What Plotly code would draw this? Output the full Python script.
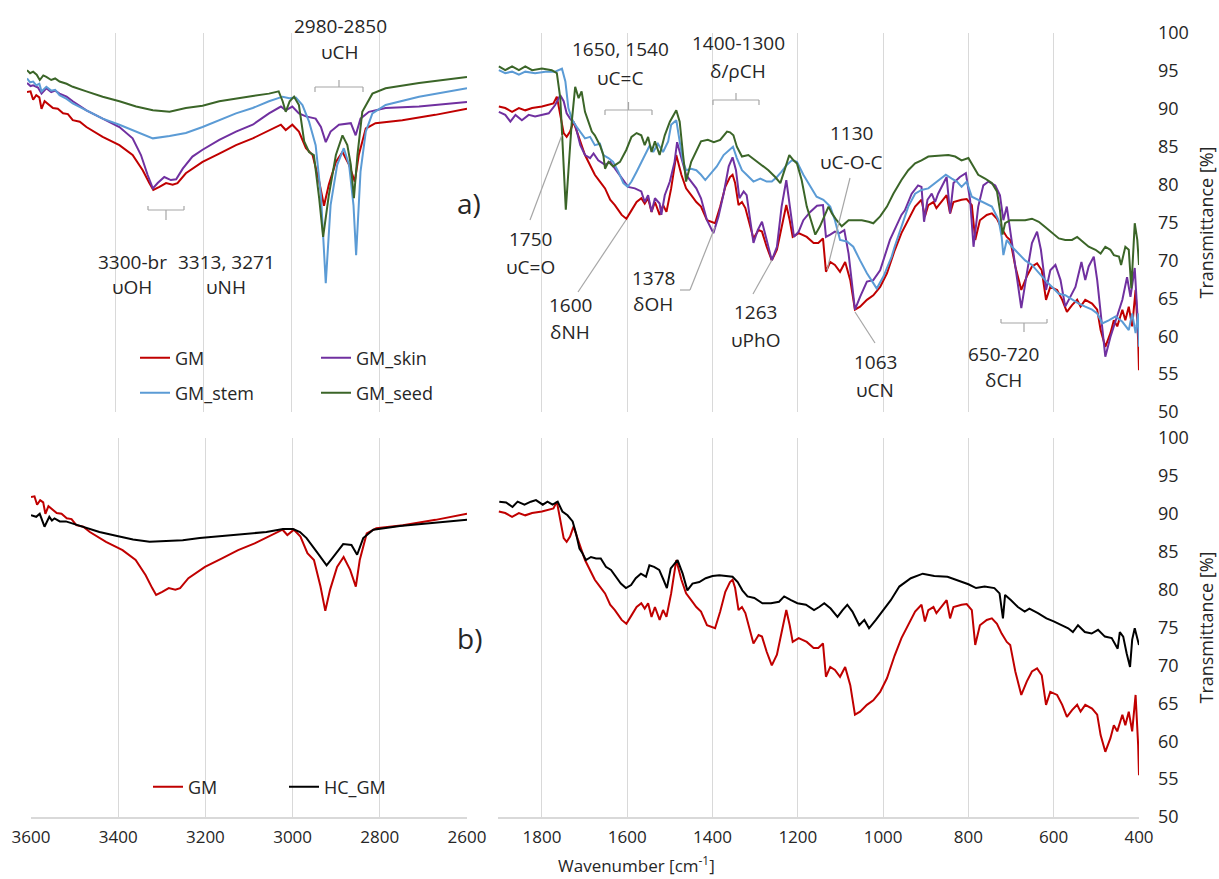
import plotly.graph_objects as go

W, H = 1219, 879

# ---------------- data (wavenumber [cm-1], transmittance [%]) ----------------
gm_high = [(3600, 92.2), (3592, 92.3), (3586, 91.2), (3579, 91.8), (3572, 91.5), (3567, 90.0),
           (3560, 91.0), (3552, 90.6), (3541, 90.1), (3530, 90.0), (3518, 89.4), (3507, 89.3),
           (3496, 88.5), (3480, 88.3), (3465, 87.6), (3428, 86.3), (3390, 85.2), (3360, 83.9),
           (3337, 81.9), (3322, 80.2), (3313, 79.3), (3299, 79.7), (3284, 80.2), (3269, 80.0),
           (3258, 80.2), (3239, 81.5), (3201, 83.0), (3163, 84.1), (3125, 85.2), (3087, 86.1),
           (3050, 87.2), (3023, 87.9), (3012, 87.2), (2997, 87.9), (2982, 87.0), (2966, 84.8),
           (2951, 83.9), (2936, 80.4), (2925, 77.2), (2914, 80.0), (2898, 83.0), (2883, 84.3),
           (2868, 82.6), (2855, 80.4), (2846, 83.9), (2830, 87.4), (2808, 88.1), (2747, 88.5),
           (2672, 89.2), (2600, 90.0)]

skin_high = [(3600, 93.4), (3592, 93.0), (3586, 93.1), (3575, 92.8), (3567, 92.0), (3556, 92.7),
             (3545, 92.2), (3536, 92.4), (3526, 92.0), (3510, 91.6), (3496, 91.0), (3465, 89.8),
             (3428, 88.7), (3390, 87.6), (3360, 86.1), (3341, 83.9), (3326, 81.3), (3314, 79.5),
             (3303, 80.2), (3288, 81.0), (3273, 80.6), (3261, 80.7), (3246, 82.1), (3224, 83.7),
             (3201, 84.6), (3163, 85.9), (3125, 87.0), (3087, 87.9), (3050, 89.4), (3023, 90.3),
             (3012, 89.8), (2997, 90.3), (2982, 89.4), (2966, 89.0), (2944, 88.7), (2932, 87.6),
             (2921, 85.6), (2910, 87.0), (2891, 87.9), (2864, 88.1), (2853, 86.5), (2842, 88.7),
             (2823, 89.6), (2785, 90.1), (2709, 90.3), (2600, 90.9)]

stem_high = [(3600, 94.0), (3593, 93.5), (3586, 93.6), (3579, 93.1), (3572, 93.3), (3567, 92.3),
             (3556, 92.9), (3545, 92.4), (3536, 92.5), (3526, 91.8), (3510, 91.3), (3496, 90.7),
             (3465, 89.8), (3428, 88.7), (3390, 87.9), (3352, 87.0), (3314, 86.1), (3276, 86.4),
             (3239, 86.8), (3201, 87.6), (3163, 88.5), (3125, 89.4), (3087, 90.1), (3050, 91.0),
             (3019, 91.6), (3004, 91.4), (2989, 91.5), (2974, 90.5), (2959, 88.3), (2944, 85.2),
             (2932, 78.6), (2921, 67.0), (2910, 77.3), (2895, 82.6), (2880, 84.8), (2868, 82.6),
             (2858, 77.3), (2852, 70.7), (2842, 81.7), (2830, 87.0), (2815, 89.4), (2785, 90.5),
             (2709, 91.6), (2600, 92.7)]

seed_high = [(3600, 95.1), (3593, 94.7), (3586, 94.9), (3578, 94.5), (3571, 93.8), (3563, 94.4),
             (3556, 94.2), (3545, 93.8), (3536, 94.0), (3526, 93.6), (3510, 93.3), (3496, 92.9),
             (3465, 92.3), (3428, 91.6), (3390, 91.0), (3352, 90.3), (3314, 89.8), (3276, 89.6),
             (3239, 90.1), (3201, 90.4), (3163, 91.0), (3125, 91.4), (3087, 91.7), (3050, 92.0),
             (3028, 92.3), (3019, 91.0), (3012, 89.6), (3003, 91.0), (2993, 91.6), (2982, 90.5),
             (2970, 85.7), (2959, 84.3), (2948, 83.9), (2936, 78.2), (2927, 73.1), (2914, 78.6),
             (2898, 83.9), (2883, 86.5), (2872, 85.2), (2864, 82.6), (2857, 78.2), (2849, 83.9),
             (2838, 89.6), (2815, 92.0), (2785, 92.7), (2709, 93.4), (2600, 94.2)]

hc_high = [(3600, 89.8), (3588, 89.6), (3580, 90.0), (3569, 88.3), (3558, 89.6), (3552, 89.1),
           (3546, 89.4), (3534, 89.0), (3520, 89.0), (3481, 88.3), (3443, 87.6), (3405, 87.1),
           (3366, 86.6), (3328, 86.3), (3290, 86.4), (3252, 86.5), (3213, 86.8), (3137, 87.2),
           (3060, 87.6), (3022, 88.0), (2999, 88.0), (2983, 87.6), (2968, 86.8), (2945, 85.0),
           (2922, 83.2), (2907, 84.3), (2884, 86.0), (2865, 85.9), (2852, 84.6), (2838, 86.8),
           (2815, 87.9), (2754, 88.4), (2677, 88.8), (2600, 89.2)]

gm_low = [(1901, 90.3), (1886, 90.1), (1870, 89.6), (1854, 90.1), (1839, 89.8), (1823, 90.1),
          (1800, 90.3), (1784, 90.5), (1773, 90.7), (1765, 91.6), (1757, 89.2), (1749, 86.8),
          (1742, 86.3), (1734, 87.0), (1726, 88.3), (1718, 87.0), (1710, 85.4), (1699, 83.9),
          (1683, 82.1), (1676, 81.3), (1664, 80.4), (1652, 79.5), (1640, 78.0), (1629, 77.3),
          (1613, 76.0), (1602, 75.5), (1590, 76.6), (1578, 77.7), (1567, 78.2), (1559, 77.5),
          (1551, 78.2), (1543, 76.4), (1535, 77.7), (1524, 76.0), (1516, 77.3), (1508, 76.4),
          (1497, 79.5), (1485, 83.9), (1473, 81.3), (1462, 79.5), (1450, 78.6), (1438, 77.7),
          (1427, 77.1), (1413, 75.3), (1394, 74.9), (1382, 77.1), (1370, 79.7), (1359, 81.0),
          (1353, 81.3), (1347, 80.2), (1339, 77.3), (1331, 77.7), (1323, 76.9), (1312, 74.5),
          (1304, 72.9), (1292, 74.0), (1284, 73.8), (1273, 71.8), (1261, 70.0), (1249, 71.4),
          (1238, 74.5), (1227, 77.3), (1219, 75.3), (1212, 73.1), (1198, 73.6), (1179, 73.1),
          (1163, 72.3), (1152, 72.3), (1141, 72.9), (1134, 68.5), (1124, 69.8), (1113, 69.4),
          (1101, 68.5), (1089, 69.8), (1077, 67.4), (1066, 63.5), (1054, 63.9), (1038, 64.8),
          (1023, 65.4), (1007, 66.5), (991, 68.3), (973, 71.3), (957, 73.6), (941, 75.3),
          (925, 77.1), (910, 78.0), (902, 75.8), (894, 77.3), (882, 77.7), (875, 76.9),
          (863, 77.7), (851, 78.6), (843, 76.2), (835, 77.7), (816, 78.0), (804, 78.1),
          (792, 77.3), (784, 72.7), (773, 75.3), (757, 76.0), (745, 76.2), (733, 75.5),
          (722, 74.2), (710, 73.1), (702, 72.7), (690, 69.2), (676, 66.1), (663, 67.9),
          (651, 69.2), (639, 69.6), (628, 68.7), (618, 64.8), (608, 66.5), (592, 66.1),
          (580, 64.8), (569, 63.2), (557, 64.1), (545, 64.8), (537, 63.9), (526, 64.8),
          (510, 64.3), (498, 63.5), (490, 60.8), (479, 58.6), (467, 60.4), (459, 62.1),
          (451, 61.3), (439, 63.5), (432, 62.1), (424, 63.9), (416, 61.3), (408, 66.1),
          (402, 59.5), (400, 55.5)]

skin_low = [(1901, 89.6), (1886, 89.2), (1874, 88.3), (1862, 89.2), (1847, 88.5), (1831, 89.2),
            (1816, 89.0), (1800, 89.2), (1784, 89.4), (1769, 90.5), (1757, 91.8), (1749, 91.0),
            (1742, 89.4), (1734, 88.7), (1722, 87.9), (1710, 85.2), (1699, 83.9), (1687, 83.5),
            (1679, 84.1), (1668, 83.2), (1652, 82.6), (1640, 83.0), (1629, 82.1), (1613, 80.8),
            (1598, 79.7), (1582, 79.5), (1567, 79.1), (1559, 77.7), (1551, 78.6), (1543, 76.4),
            (1535, 78.2), (1524, 77.5), (1520, 76.0), (1512, 78.6), (1500, 80.4), (1489, 83.0),
            (1483, 85.6), (1473, 83.5), (1462, 81.3), (1450, 80.4), (1438, 79.5), (1427, 78.2),
            (1413, 75.3), (1398, 73.6), (1386, 75.8), (1374, 78.8), (1362, 82.4), (1353, 83.6),
            (1345, 81.9), (1337, 78.2), (1327, 79.1), (1320, 78.6), (1312, 75.3), (1304, 72.3),
            (1294, 74.0), (1284, 75.1), (1273, 72.7), (1261, 70.0), (1249, 71.8), (1238, 77.1),
            (1227, 80.6), (1218, 76.6), (1209, 73.1), (1198, 73.8), (1187, 75.3), (1171, 76.4),
            (1155, 77.2), (1141, 77.3), (1134, 73.1), (1124, 73.4), (1113, 73.8), (1102, 73.6),
            (1091, 74.0), (1081, 70.9), (1066, 63.5), (1054, 65.2), (1038, 67.2), (1023, 67.4),
            (1007, 68.7), (984, 72.7), (973, 74.0), (957, 76.0), (949, 76.6), (933, 78.8),
            (918, 79.9), (910, 79.7), (904, 75.1), (896, 78.0), (886, 78.8), (878, 77.7),
            (871, 78.8), (859, 80.2), (851, 81.0), (843, 76.2), (835, 80.2), (820, 81.0),
            (806, 81.5), (796, 78.0), (788, 71.8), (777, 77.1), (765, 79.9), (753, 80.4),
            (737, 79.9), (726, 78.6), (718, 75.3), (710, 77.1), (702, 74.0), (690, 69.2),
            (676, 63.7), (663, 68.3), (651, 72.3), (639, 73.8), (630, 71.4), (618, 66.1),
            (608, 68.7), (596, 69.4), (584, 67.4), (573, 63.9), (561, 65.2), (549, 66.5),
            (535, 69.8), (526, 67.4), (518, 69.2), (506, 70.5), (498, 67.4), (488, 61.7),
            (479, 57.3), (467, 59.9), (455, 62.1), (439, 64.8), (428, 67.8), (420, 65.2),
            (410, 69.0), (404, 63.5), (400, 59.3)]

stem_low = [(1901, 95.1), (1886, 94.7), (1870, 94.9), (1854, 94.5), (1839, 94.9), (1816, 94.7),
            (1792, 94.9), (1769, 94.9), (1753, 95.3), (1745, 93.6), (1738, 90.1), (1730, 88.7),
            (1722, 87.9), (1710, 87.0), (1699, 86.1), (1687, 86.3), (1676, 85.2), (1664, 85.4),
            (1656, 83.9), (1644, 83.5), (1633, 83.0), (1621, 81.7), (1609, 80.2), (1599, 79.7),
            (1590, 80.4), (1578, 81.7), (1567, 83.0), (1555, 84.3), (1547, 85.2), (1539, 84.3),
            (1528, 85.4), (1516, 84.3), (1504, 85.7), (1497, 87.9), (1485, 88.5), (1477, 85.7),
            (1469, 83.0), (1462, 81.9), (1450, 82.1), (1438, 81.9), (1427, 81.3), (1417, 80.6),
            (1406, 81.3), (1390, 82.4), (1374, 83.9), (1359, 84.6), (1352, 85.0), (1343, 83.5),
            (1331, 81.9), (1320, 81.3), (1304, 80.4), (1288, 80.8), (1273, 80.4), (1261, 80.4),
            (1249, 81.0), (1238, 81.7), (1226, 82.6), (1214, 83.2), (1202, 83.0), (1187, 81.3),
            (1171, 79.7), (1156, 78.4), (1140, 78.0), (1124, 77.1), (1113, 75.3), (1101, 72.7),
            (1085, 72.5), (1070, 71.8), (1054, 70.0), (1038, 68.3), (1023, 67.0), (1015, 66.3),
            (999, 67.9), (980, 70.5), (973, 71.8), (957, 74.4), (941, 77.1), (925, 78.8),
            (910, 79.3), (894, 79.5), (878, 80.2), (863, 80.8), (853, 81.3), (839, 80.8),
            (827, 80.4), (816, 79.7), (804, 80.4), (792, 78.4), (777, 78.0), (761, 77.5),
            (745, 77.1), (729, 75.3), (722, 73.1), (718, 70.7), (710, 72.7), (698, 71.8),
            (682, 70.9), (667, 70.0), (651, 69.4), (635, 68.3), (620, 67.4), (604, 66.5),
            (588, 65.6), (573, 65.4), (557, 64.8), (541, 64.3), (526, 63.9), (510, 63.5),
            (498, 63.0), (486, 61.7), (471, 62.1), (455, 62.6), (439, 61.9), (424, 60.8),
            (416, 63.0), (408, 60.4), (402, 63.0), (400, 58.6)]

seed_low = [(1901, 95.6), (1886, 95.1), (1870, 95.6), (1854, 95.1), (1839, 95.6), (1823, 95.1),
            (1800, 95.3), (1777, 95.1), (1765, 94.7), (1757, 91.4), (1753, 87.0), (1749, 81.7),
            (1744, 76.7), (1738, 81.7), (1730, 88.3), (1722, 92.9), (1714, 91.4), (1707, 92.3),
            (1699, 89.6), (1691, 88.3), (1683, 87.0), (1676, 86.5), (1664, 85.2), (1656, 83.9),
            (1652, 82.1), (1644, 83.0), (1633, 82.4), (1617, 83.0), (1602, 84.6), (1590, 86.3),
            (1578, 86.8), (1567, 86.5), (1559, 85.2), (1551, 86.3), (1543, 84.3), (1535, 85.7),
            (1524, 83.9), (1512, 86.5), (1500, 88.3), (1485, 89.8), (1477, 88.3), (1469, 83.9),
            (1462, 80.4), (1450, 83.0), (1438, 84.3), (1427, 85.7), (1411, 85.9), (1397, 85.6),
            (1382, 85.9), (1366, 87.0), (1359, 86.9), (1351, 86.5), (1343, 85.0), (1331, 83.7),
            (1316, 83.9), (1300, 83.2), (1284, 82.6), (1269, 81.9), (1253, 81.0), (1241, 80.2),
            (1230, 82.1), (1220, 83.9), (1210, 83.2), (1202, 82.8), (1191, 80.6), (1179, 77.1),
            (1167, 74.9), (1159, 73.4), (1148, 74.5), (1136, 76.2), (1128, 77.1), (1120, 76.2),
            (1109, 75.3), (1097, 74.5), (1081, 75.3), (1066, 75.3), (1050, 75.3), (1034, 75.1),
            (1023, 74.9), (1007, 75.8), (991, 77.1), (976, 78.8), (957, 80.6), (941, 81.9),
            (925, 82.8), (910, 83.2), (894, 83.7), (871, 83.8), (847, 83.9), (831, 83.7),
            (816, 83.2), (800, 83.5), (788, 82.4), (777, 81.3), (761, 80.8), (745, 80.2),
            (733, 79.1), (726, 76.6), (720, 73.4), (714, 74.9), (702, 75.3), (682, 75.3),
            (667, 75.3), (651, 75.5), (635, 75.1), (620, 74.4), (604, 73.6), (588, 72.9),
            (573, 72.7), (557, 72.7), (545, 73.1), (533, 72.5), (518, 71.8), (502, 71.4),
            (490, 70.9), (479, 71.8), (467, 71.4), (459, 70.7), (447, 70.5), (442, 69.4),
            (432, 71.8), (424, 71.4), (418, 66.3), (410, 74.9), (404, 72.7), (400, 69.4)]

hc_low = [(1900, 91.6), (1884, 91.5), (1869, 90.9), (1857, 91.6), (1841, 91.2), (1826, 91.6),
          (1814, 91.8), (1798, 91.2), (1787, 91.6), (1775, 91.2), (1763, 91.6), (1752, 90.3),
          (1740, 89.8), (1728, 89.0), (1720, 87.4), (1712, 85.4), (1705, 84.8), (1697, 83.9),
          (1685, 84.3), (1673, 84.1), (1662, 84.1), (1650, 83.0), (1638, 82.6), (1627, 81.7),
          (1615, 80.8), (1603, 80.2), (1591, 80.6), (1580, 81.5), (1568, 82.1), (1556, 81.7),
          (1548, 83.2), (1537, 83.0), (1525, 82.6), (1515, 81.3), (1507, 80.2), (1498, 82.8),
          (1482, 83.9), (1470, 82.1), (1459, 79.9), (1447, 80.8), (1431, 81.0), (1416, 81.5),
          (1400, 81.8), (1384, 81.9), (1369, 81.8), (1353, 81.7), (1341, 81.0), (1330, 79.9),
          (1318, 79.1), (1302, 78.9), (1283, 78.2), (1263, 78.2), (1244, 78.4), (1232, 79.1),
          (1216, 78.6), (1201, 78.2), (1181, 78.0), (1162, 77.3), (1150, 77.7), (1138, 78.2),
          (1123, 77.5), (1107, 76.4), (1095, 77.3), (1084, 78.0), (1072, 77.1), (1056, 75.3),
          (1044, 76.0), (1033, 74.9), (1017, 76.0), (1002, 77.1), (982, 78.6), (962, 80.4),
          (935, 81.5), (907, 82.1), (880, 81.8), (849, 81.7), (817, 81.0), (800, 80.7),
          (782, 80.2), (762, 80.4), (739, 80.2), (727, 79.5), (719, 76.2), (714, 79.3),
          (700, 78.6), (684, 77.7), (668, 77.1), (657, 77.5), (637, 76.9), (617, 76.2),
          (600, 75.8), (582, 75.3), (566, 74.9), (555, 74.4), (543, 75.3), (527, 74.4),
          (511, 74.2), (496, 74.7), (480, 73.8), (464, 73.6), (450, 72.2), (445, 74.4),
          (437, 73.8), (429, 71.6), (421, 69.8), (416, 73.4), (410, 74.9), (400, 72.7)]

# ---------------- styling helpers ----------------
FONT = "Open Sans, Noto Sans, DejaVu Sans, sans-serif"
TXT = "#262626"
GRID = "#D9D9D9"
LEAD = "#A6A6A6"
COL = {"GM": "#C00000", "GM_skin": "#7030A0", "GM_stem": "#5B9BD5",
       "GM_seed": "#3B6528", "HC_GM": "#000000"}


def X(px):
    return px / W


def Y(py):
    return 1 - py / H


fig = go.Figure()


def add(series, name, xa, ya, legend="legend", show=False):
    fig.add_trace(go.Scatter(
        x=[p[0] for p in series], y=[p[1] for p in series], mode="lines", name=name,
        line=dict(color=COL[name], width=2), xaxis=xa, yaxis=ya,
        showlegend=show, legend=legend, hoverinfo="skip"))


# top row (a)
add(gm_high, "GM", "x", "y", "legend", True)
add(skin_high, "GM_skin", "x", "y", "legend", True)
add(stem_high, "GM_stem", "x", "y", "legend2", True)
add(seed_high, "GM_seed", "x", "y", "legend2", True)
add(gm_low, "GM", "x2", "y2")
add(skin_low, "GM_skin", "x2", "y2")
add(stem_low, "GM_stem", "x2", "y2")
add(seed_low, "GM_seed", "x2", "y2")
# bottom row (b)
add(gm_high, "GM", "x3", "y3", "legend3", True)
add(hc_high, "HC_GM", "x3", "y3", "legend3", True)
add(gm_low, "GM", "x4", "y4")
add(hc_low, "HC_GM", "x4", "y4")

xcommon = dict(showgrid=True, gridcolor=GRID, gridwidth=1.3, zeroline=False,
               tickmode="linear", tick0=400, dtick=200, ticks="", automargin=False,
               tickfont=dict(size=17, color=TXT, family=FONT), fixedrange=True)
ycommon_right = dict(range=[50, 100], side="right", tickmode="linear", tick0=50, dtick=5,
                     showgrid=False, zeroline=False, showline=False, ticks="",
                     tickfont=dict(size=18, color=TXT, family=FONT), ticklabelstandoff=18,
                     title=dict(text="Transmittance [%]", font=dict(size=18, color=TXT, family=FONT),
                                standoff=12),
                     automargin=False)

fig.update_layout(
    width=W, height=H,
    margin=dict(l=0, r=0, t=0, b=0),
    paper_bgcolor="white", plot_bgcolor="white",
    font=dict(family=FONT, color=TXT),
    xaxis=dict(domain=[X(27), X(467)], range=[3600, 2600], anchor="y",
               showticklabels=False, showline=False, **xcommon),
    yaxis=dict(domain=[Y(412), Y(33)], range=[50, 100], anchor="x", visible=False),
    xaxis2=dict(domain=[X(498), X(1139)], range=[1903, 400], anchor="y2",
                showticklabels=False, showline=False, **xcommon),
    yaxis2=dict(domain=[Y(412), Y(33)], anchor="x2", **ycommon_right),
    xaxis3=dict(domain=[X(31), X(467)], range=[3600, 2600], anchor="y3",
                showticklabels=True, showline=True, linecolor=GRID, linewidth=1.5,
                ticklabelstandoff=4, **xcommon),
    yaxis3=dict(domain=[Y(817), Y(438)], range=[50, 100], anchor="x3", visible=False),
    xaxis4=dict(domain=[X(498), X(1139)], range=[1903, 400], anchor="y4",
                showticklabels=True, showline=True, linecolor=GRID, linewidth=1.5,
                ticklabelstandoff=4, **xcommon),
    yaxis4=dict(domain=[Y(817), Y(438)], anchor="x4", **ycommon_right),
    legend=dict(x=X(135), y=Y(358), xanchor="left", yanchor="middle", orientation="h",
                entrywidth=136, entrywidthmode="pixels", bgcolor="rgba(0,0,0,0)",
                font=dict(size=18, color=TXT, family=FONT), itemclick=False),
    legend2=dict(x=X(135), y=Y(393), xanchor="left", yanchor="middle", orientation="h",
                 entrywidth=136, entrywidthmode="pixels", bgcolor="rgba(0,0,0,0)",
                 font=dict(size=18, color=TXT, family=FONT), itemclick=False),
    legend3=dict(x=X(148), y=Y(787), xanchor="left", yanchor="middle", orientation="h",
                 entrywidth=91, entrywidthmode="pixels", bgcolor="rgba(0,0,0,0)",
                 font=dict(size=18, color=TXT, family=FONT), itemclick=False),
)


# ---------------- annotations ----------------
def label(px, py, text, size=19):
    fig.add_annotation(x=X(px), y=Y(py), xref="paper", yref="paper", text=text,
                       showarrow=False, xanchor="center", yanchor="middle",
                       font=dict(size=size, color=TXT, family=FONT))


def two(px, py1, py2, t1, t2):
    label(px, py1, t1)
    label(px, py2, t2)


two(340, 26, 52, "2980-2850", "υCH")
two(132, 262, 287, "3300-br", "υOH")
two(226, 262, 287, "3313, 3271", "υNH")
two(620, 49, 78, "1650, 1540", "υC=C")
two(738, 43, 71, "1400-1300", "δ/ρCH")
two(851, 133, 162, "1130", "υC-O-C")
two(530, 239, 267, "1750", "υC=O")
two(570, 305, 332, "1600", "δNH")
two(653, 278, 304, "1378", "δOH")
two(755, 312, 340, "1263", "υPhO")
two(875, 362, 390, "1063", "υCN")
two(1003, 354, 380, "650-720", "δCH")

label(469, 203, "a)", size=28)
label(469, 638, "b)", size=28)
label(636, 864, "Wavenumber [cm<sup>-1</sup>]", size=17)


def seg(p1, p2):
    fig.add_shape(type="line", xref="paper", yref="paper",
                  x0=X(p1[0]), y0=Y(p1[1]), x1=X(p2[0]), y1=Y(p2[1]),
                  line=dict(color=LEAD, width=1.2))


def bracket(x0, x1, yb, yend, ymid):
    seg((x0, yend), (x0, yb))
    seg((x0, yb), (x1, yb))
    seg((x1, yb), (x1, yend))
    xm = (x0 + x1) / 2
    seg((xm, yb), (xm, ymid))


bracket(315, 363, 87, 92, 80)      # 2980-2850
bracket(148, 184, 210, 206, 220)   # 3300 / 3313, 3271
bracket(605, 652, 110, 115, 102)   # 1650, 1540
bracket(713, 759, 100, 105, 93)    # 1400-1300
bracket(1001, 1047, 323, 319, 332)  # 650-720

seg((530, 220), (562, 135))        # 1750
seg((578, 292), (626, 220))        # 1600
seg((680, 290), (690, 290))        # 1378
seg((690, 290), (715, 227))
seg((753, 294), (772, 260))        # 1263
seg((850, 178), (827, 270))        # 1130
seg((875, 343), (855, 312))        # 1063

fig.write_html("out.html")
